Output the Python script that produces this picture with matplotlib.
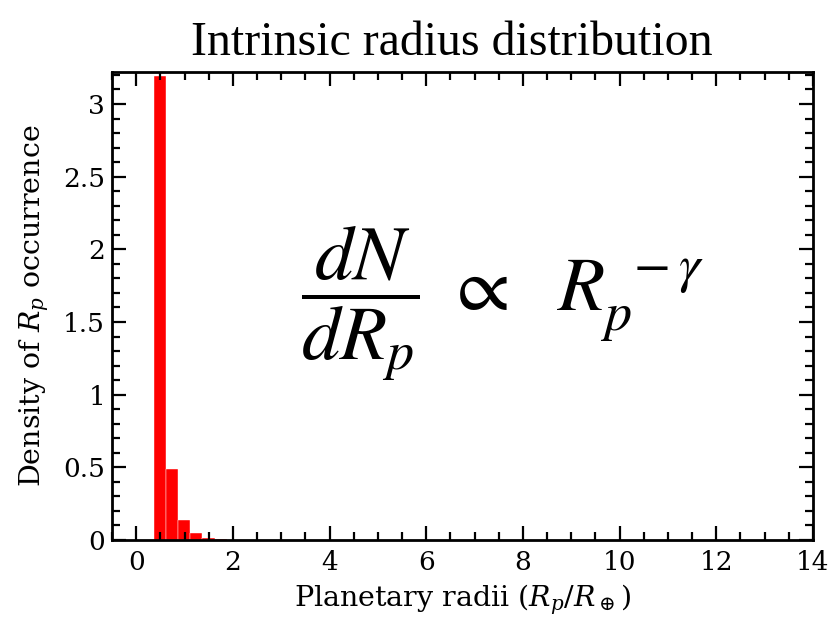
import matplotlib
matplotlib.use('Agg')
import matplotlib.pyplot as plt
from matplotlib.ticker import MultipleLocator

# histogram bins
bin_left = [0.36, 0.613, 0.866, 1.119, 1.372, 1.625]
bin_width = 0.253
density = [3.19, 0.49, 0.135, 0.045, 0.016, 0.004]

plt.rcParams['mathtext.fontset'] = 'dejavuserif'

fig = plt.figure(figsize=(8.32, 6.18), dpi=100)
ax = fig.add_axes([0.1346, 0.1262, 0.8425, 0.7573])

ax.bar(bin_left, density, width=bin_width, align='edge', color='red',
       edgecolor='white', linewidth=0.3)

ax.set_xlim(-0.5, 14)
ax.set_ylim(0, 3.22)
ax.xaxis.set_major_locator(MultipleLocator(2))
ax.xaxis.set_minor_locator(MultipleLocator(0.5))
ax.yaxis.set_major_locator(MultipleLocator(0.5))
ax.yaxis.set_minor_locator(MultipleLocator(0.1))
ax.yaxis.set_major_formatter(plt.FuncFormatter(lambda v, p: '%g' % v))

ax.tick_params(which='both', direction='in', top=True, right=True,
               width=1.6, labelsize=19)
ax.tick_params(which='major', length=10)
ax.tick_params(axis='x', which='major', pad=7)
ax.tick_params(axis='y', which='major', pad=5)
ax.tick_params(which='minor', length=5.5)
for s in ax.spines.values():
    s.set_linewidth(2)
for lab in ax.get_xticklabels() + ax.get_yticklabels():
    lab.set_family('DejaVu Serif')

ax.set_xlabel(r'Planetary radii ($R_p/R_\oplus$)', family='DejaVu Serif',
              fontsize=20.5, labelpad=6)
ax.set_ylabel(r'Density of $R_p$ occurrence', family='DejaVu Serif',
              fontsize=20.5, labelpad=9)
ax.set_title('Intrinsic radius distribution', family='Liberation Serif',
             fontsize=34.5, pad=12, x=0.485)

# power-law annotation
ax.text(0.557, 0.505, r'$\dfrac{dN}{dR_p}\ \propto\ \ R_p^{\ -\gamma}$',
        transform=ax.transAxes, ha='center', va='center', fontsize=55.5,
        math_fontfamily='stix')

fig.savefig('out.png', dpi=100)
